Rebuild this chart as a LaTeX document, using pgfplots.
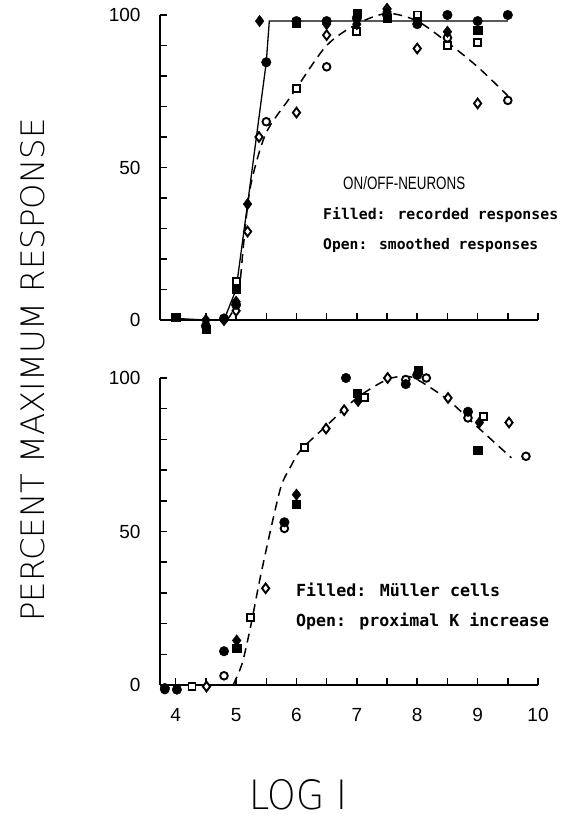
\documentclass[border=0pt]{standalone}
\usepackage{fontspec}
\setmainfont{Liberation Sans}
\newfontfamily\plotmono{DejaVu Sans Mono}
\newfontfamily\thinfont{DejaVuSans-ExtraLight.ttf}
\usepackage{graphicx}
\usepackage{pgfplots}
\pgfplotsset{compat=1.18}

\pgfplotsset{
  panel/.style={
    scale only axis, width=378pt,
    xmin=3.74, xmax=10, ymin=0, ymax=100,
    axis x line=bottom, axis y line=left,
    axis line style={-, line width=2.6pt},
    xtick={4,...,10}, minor xtick={4.5,5.5,...,9.5},
    ytick={0,50,100}, minor ytick={10,20,30,40,60,70,80,90},
    tick align=inside, major tick length=7pt, minor tick length=7pt,
    every tick/.style={black, line width=1.5pt},
    tick label style={font=\fontsize{19}{20}\selectfont},
    yticklabel style={xshift=-16pt},
    xticklabel style={yshift=-20pt},
    /pgf/number format/assume math mode=true,
    clip=false,
  },
  fc/.style={only marks, mark=*, mark size=4.8pt, black},
  fd/.style={only marks, mark=diamond*, mark size=5.8pt, black},
  fs/.style={only marks, mark=square*, mark size=4.1pt, black},
  oc/.style={only marks, mark=*, mark size=3.8pt, mark options={draw=black, fill=white, line width=1.9pt}},
  od/.style={only marks, mark=diamond*, mark size=4.8pt, mark options={draw=black, fill=white, line width=1.9pt}},
  os/.style={only marks, mark=square*, mark size=3.5pt, mark options={draw=black, fill=white, line width=1.9pt}},
  dashcurve/.style={black, line width=1.5pt, dash pattern=on 9pt off 6pt},
}

\begin{document}
\begin{tikzpicture}
\useasboundingbox (0,0) rectangle (564pt,818pt);

% ---- upper panel: ON/OFF neurons
\begin{axis}[panel, at={(160pt,498pt)}, anchor=south west, height=305pt, xticklabels={}]
\addplot[black, line width=1.3pt] coordinates {(4.0,0.5) (4.5,0) (4.8,0) (5.0,10) (5.19,38) (5.5,84.5) (5.55,98) (9.5,98)};
\addplot[dashcurve, smooth, tension=0.5] coordinates {(4.85,0) (5.03,7) (5.13,26) (5.24,44) (5.49,61) (5.86,72) (6.0,76) (6.5,90) (7.0,97) (7.5,100.5) (8.0,98) (8.5,91) (9.0,83) (9.5,73.5)};
\addplot[oc] coordinates {(5.5,65) (6.5,83) (8.5,92.5) (9.5,72)};
\addplot[od] coordinates {(4.8,0) (5.0,3) (5.19,29) (5.38,60) (6.0,68) (6.5,93.4) (7.5,102) (8.0,89) (9.0,71)};
\addplot[os] coordinates {(5.0,12.5) (6.0,76) (7.0,94.5) (8.0,100) (8.5,90) (9.0,91)};
\addplot[fc] coordinates {(4.5,-2) (4.8,0.5) (5.0,5) (5.5,84.5) (6.0,98) (6.5,98) (7.0,99) (7.5,100) (8.0,97) (8.5,100) (9.0,98) (9.5,100)};
\addplot[fd] coordinates {(4.5,0) (5.0,6) (5.19,38) (5.39,98) (6.5,97) (7.0,97) (7.5,101) (8.5,94.5)};
\addplot[fs] coordinates {(4.0,1) (4.5,-3) (5.0,10) (6.0,97.5) (7.0,100.5) (7.5,99) (8.0,98) (9.0,95)};
\end{axis}

% ---- lower panel: Mueller cells
\begin{axis}[panel, at={(160pt,133pt)}, anchor=south west, height=307pt]
\addplot[dashcurve, smooth, tension=0.5] coordinates {(4.95,0) (5.1,7) (5.24,19) (5.4,35) (5.6,53) (5.75,65) (5.9,71) (6.07,76.5) (6.5,84.5) (7.0,93.5) (7.5,99.5) (7.8,100.5) (8.0,99.5) (8.5,93) (9.0,84) (9.56,74)};
\addplot[oc] coordinates {(3.82,-1.5) (4.8,3) (5.8,51) (7.81,99.5) (8.15,100) (8.84,87) (9.8,74.5)};
\addplot[od] coordinates {(4.51,-0.5) (5.49,31.5) (6.49,83.5) (6.79,89.5) (7.51,100) (8.51,93.5) (9.52,85.5)};
\addplot[os] coordinates {(4.27,-0.5) (5.24,22) (6.13,77.5) (7.12,93.5) (9.1,87.5)};
\addplot[fc] coordinates {(3.82,-1) (4.02,-1.5) (4.8,11) (5.8,53) (6.82,100) (7.81,98) (8.0,101) (8.84,89)};
\addplot[fd] coordinates {(5.01,14.5) (6.0,62) (7.02,92.5) (9.03,85.5)};
\addplot[fs] coordinates {(5.01,12) (6.0,59) (7.0,95) (8.01,102.5) (9.0,76.5)};
\end{axis}

% ---- texts
\node[anchor=west, inner sep=0pt] at (343pt,635pt) {\resizebox{122pt}{13pt}{ON/OFF-NEURONS}};
\node[anchor=west, inner sep=0pt] at (323pt,603pt) {\resizebox{235pt}{!}{\plotmono\bfseries Filled: recorded responses}};
\node[anchor=west, inner sep=0pt] at (323pt,573pt) {\resizebox{215pt}{!}{\plotmono\bfseries Open: smoothed responses}};
\node[anchor=west, inner sep=0pt] at (296pt,228pt) {\resizebox{204pt}{!}{\plotmono\bfseries Filled: Müller cells}};
\node[anchor=west, inner sep=0pt] at (296pt,197pt) {\resizebox{253pt}{!}{\plotmono\bfseries Open: proximal K increase}};
\node[rotate=90, inner sep=0pt] at (33pt,448pt) {\resizebox{503pt}{24pt}{\thinfont PERCENT MAXIMUM RESPONSE}};
\node[inner sep=0pt] at (298pt,23pt) {\resizebox{98pt}{30pt}{\thinfont LOG I}};
\end{tikzpicture}
\end{document}
